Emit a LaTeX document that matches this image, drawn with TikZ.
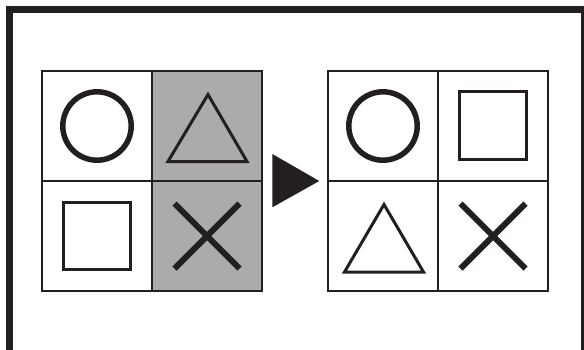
\documentclass[tikz,border=0pt]{standalone}
\usepackage{xcolor}
\usepackage{tikz}
\usetikzlibrary{positioning}

\definecolor{ink}{HTML}{231F20}
\definecolor{shade}{RGB}{171,171,173}

\begin{document}
\begin{tikzpicture}[x=1pt, y=-1pt, node distance=0pt, line join=miter,
    cell/.style={draw=ink, line width=2.3pt, rectangle, minimum size=110pt, inner sep=0pt, outer sep=0pt},
    greycell/.style={cell, fill=shade},
    ring/.style={draw=ink, line width=5.5pt},
    outline/.style={draw=ink, line width=3pt},
    cross/.style={draw=ink, line width=6pt}]

    \useasboundingbox (0,0) rectangle (584,349);

    % Frame
    \draw[ink, line width=6.5pt] (9.3,400) |- (584.3,9.3) -- (584.3,400);

    % Cells
    \node (la) [cell] at (97,126) {};
    \node (lb) [greycell, right=of la] {};
    \node (lc) [cell, below=of la] {};
    \node (ld) [greycell, right=of lc] {};
    \node (ra) [cell, right=66pt of lb] {};
    \node (rb) [cell, right=of ra] {};
    \node (rc) [cell, below=of ra] {};
    \node (rd) [cell, right=of rc] {};

    % Left grid
    \draw[ring] (la) circle (34.2pt);
    \draw[outline] ([shift={(1,-31.5)}]lb.center) -- ([shift={(40,35.5)}]lb.center) -- ([shift={(-39,35.5)}]lb.center) -- cycle;
    \draw[outline] ([shift={(-34,-34)}]lc.center) rectangle ([shift={(33.5,33.8)}]lc.center);
    \draw[cross] ([shift={(-32.5,-32.5)}]ld.center) -- ([shift={(32.5,32.5)}]ld.center)
                 ([shift={(32.5,-32.5)}]ld.center) -- ([shift={(-32.5,32.5)}]ld.center);

    % Arrow
    \fill[ink] ([shift={(10.3,-27)}]lb.south east) -- ([shift={(-8.7,0)}]ra.south west) -- ([shift={(10.3,26.3)}]lb.south east) -- cycle;

    % Right grid
    \draw[ring] (ra) circle (34.2pt);
    \draw[outline] ([shift={(-33.5,-34.5)}]rb.center) rectangle ([shift={(33.8,33.5)}]rb.center);
    \draw[outline] ([shift={(1,-31.5)}]rc.center) -- ([shift={(40.5,36)}]rc.center) -- ([shift={(-38.5,36)}]rc.center) -- cycle;
    \draw[cross] ([shift={(-32.5,-32.5)}]rd.center) -- ([shift={(32.5,32.5)}]rd.center)
                 ([shift={(32.5,-32.5)}]rd.center) -- ([shift={(-32.5,32.5)}]rd.center);
\end{tikzpicture}
\end{document}
